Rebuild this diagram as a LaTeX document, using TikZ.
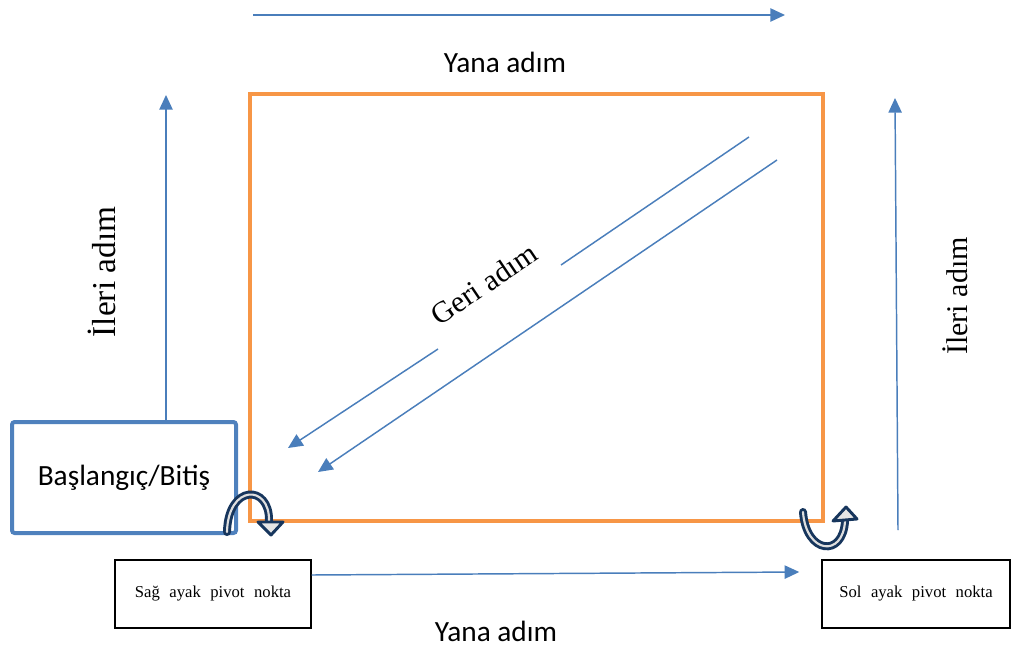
\documentclass[tikz,border=0pt]{standalone}
\usepackage{fontspec}
\setmainfont{Liberation Serif}
\setsansfont{Carlito}
\usetikzlibrary{arrows.meta,calc,positioning}

\definecolor{stepblue}{RGB}{74,126,187}
\definecolor{fieldorange}{RGB}{247,150,70}
\definecolor{boxblue}{RGB}{79,129,189}
\definecolor{turnnavy}{RGB}{23,54,93}

\begin{document}
\begin{tikzpicture}[x=0.75pt,y=-0.75pt,
  steparrow/.style={draw=stepblue,line width=1.1pt,-{Triangle[length=11pt,width=10pt]}},
  pivotbox/.style={draw=black,line width=1.1pt,inner sep=0pt,minimum height=51pt,font=\fontsize{12.5}{14}\selectfont},
  turnline/.style={draw=turnnavy,double=gray!25,double distance=1.6pt,line width=2.2pt,line cap=round},
  turnhead/.style={draw=turnnavy,fill=gray!20,line width=2.2pt,line join=round}]
\useasboundingbox (0,0) rectangle (1012,645);

% square walked on the floor
\node[draw=fieldorange,line width=3pt,minimum width=429.75pt,minimum height=320.25pt,inner sep=0pt] (field) at (536.5,307.5) {};

\node[draw=boxblue,line width=3pt,rounded corners=2pt,fill=white,minimum width=168pt,minimum height=83.25pt,inner sep=0pt,font=\sffamily\fontsize{22}{26}\selectfont] (start) at (124,477.5) {Başlangıç/Bitiş};
\node[pivotbox,minimum width=147pt] (sag) at (213,594) {Sağ\hspace{4pt} ayak\hspace{4pt} pivot\hspace{4pt} nokta};
\node[pivotbox,minimum width=141pt] (sol) at (916,594) {Sol\hspace{4pt} ayak\hspace{4pt} pivot\hspace{4pt} nokta};

% labels
\node[inner sep=0pt,font=\sffamily\fontsize{22}{26}\selectfont] (yanatop) at (505,62) {Yana adım};
\node[inner sep=0pt,font=\sffamily\fontsize{22}{26}\selectfont] (yanabot) at (496,631) {Yana adım};
\node[inner sep=0pt,rotate=90,font=\fontsize{25}{30}\selectfont] (ilerileft) at (102,272) {İleri adım};
\node[inner sep=0pt,rotate=90,font=\fontsize{22.5}{27}\selectfont] (ileriright) at (955,296) {İleri adım};
\node[inner sep=0pt,rotate=34,font=\fontsize{22.5}{27}\selectfont] (geri) at (484,284) {Geri adım};

% step arrows
\coordinate (topA) at (253,15);
\coordinate (topB) at (785,15);
\draw[steparrow] (topA) -- (topB);
\coordinate (leftB) at (166,95);
\draw[steparrow] ([xshift=31.5pt]start.north) -- (leftB);
\coordinate (rightA) at (898,530);
\coordinate (rightB) at (895,98);
\draw[steparrow] (rightA) -- (rightB);
\draw[steparrow] ([yshift=14.25pt]sag.east) -- ([xshift=-16.5pt,yshift=16.5pt]sol.west);

% back steps along the diagonal
\coordinate (g1a) at (749,137);
\coordinate (g1b) at (561,265);
\coordinate (g1c) at (438,349);
\coordinate (g1d) at (288,448);
\coordinate (g2a) at (777,160);
\coordinate (g2b) at (318,472);
\draw[draw=stepblue,line width=1.1pt] (g1a) -- (g1b);
\draw[steparrow] (g1c) -- (g1d);
\draw[steparrow] (g2a) -- (g2b);

% pivot turns
\draw[turnline] (227,532) .. controls (228,484) and (270,484) .. (269,521);
\draw[turnhead] (258,522) -- (283,522) -- (271,535) -- cycle;
\draw[turnline] (803,512) .. controls (806,554) and (843,558) .. (845,521);
\draw[turnhead] (833,521) -- (857,519) -- (846,507) -- cycle;
\end{tikzpicture}
\end{document}
